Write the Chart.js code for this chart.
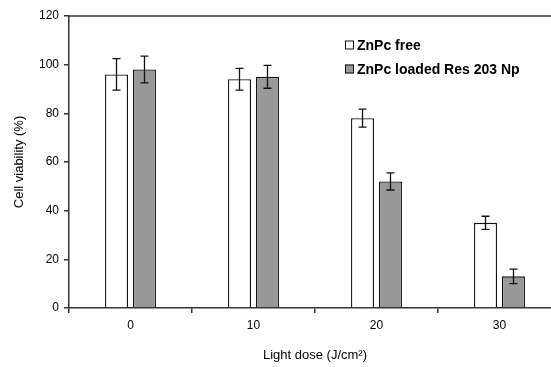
<html>
<head>
    <meta http-equiv="Content-Type" content="text/html; charset=utf-8"/>
    <title></title>
    <script src="https://cdn.jsdelivr.net/npm/chart.js@4/dist/chart.umd.min.js"></script>
    <style>
        body { margin: 0; overflow: hidden; background: #fff; }
        .chart { width: 570px; height: 367px; }
    </style>
</head>
<body>
<div class="chart">
    <canvas id="bars" width="570" height="367"></canvas>
</div>
<script>
    var doses = ["0", "10", "20", "30"];
    var freeValues = [96, 94, 78, 35];
    var freeErrors = [6.5, 4.5, 3.7, 2.7];
    var loadedValues = [98, 95, 52, 13];
    var loadedErrors = [5.5, 4.7, 3.5, 3];
    var yTicks = [0, 20, 40, 60, 80, 100, 120];

    var family = "'Liberation Sans', Arial, sans-serif";
    var tickFont = {family: family, size: 12};
    var titleFont = {family: family, size: 13};

    var errorBars = {
        id: 'errorBars',
        afterDatasetsDraw: function (chart) {
            var ctx = chart.ctx;
            var y = chart.scales.y;
            ctx.save();
            ctx.strokeStyle = '#111';
            ctx.lineWidth = 1.3;
            chart.data.datasets.forEach(function (ds, i) {
                var meta = chart.getDatasetMeta(i);
                meta.data.forEach(function (bar, j) {
                    var top = y.getPixelForValue(ds.data[j] + ds.errors[j]);
                    var bot = y.getPixelForValue(ds.data[j] - ds.errors[j]);
                    ctx.beginPath();
                    ctx.moveTo(bar.x, top); ctx.lineTo(bar.x, bot);
                    ctx.moveTo(bar.x - 4, top); ctx.lineTo(bar.x + 4, top);
                    ctx.moveTo(bar.x - 4, bot); ctx.lineTo(bar.x + 4, bot);
                    ctx.stroke();
                });
            });
            // top frame line
            var a = chart.chartArea;
            ctx.strokeStyle = '#333';
            ctx.lineWidth = 1.5;
            ctx.beginPath();
            ctx.moveTo(a.left, a.top); ctx.lineTo(a.right, a.top);
            ctx.stroke();
            ctx.restore();
        }
    };

    var boxLegend = {
        id: 'boxLegend',
        afterDraw: function (chart) {
            var ctx = chart.ctx;
            ctx.save();
            ctx.font = 'bold 14px ' + family;
            ctx.textBaseline = 'middle';
            chart.data.datasets.forEach(function (ds, i) {
                var cy = 45 + i * 24;
                ctx.fillStyle = ds.backgroundColor;
                ctx.fillRect(345, cy - 4.5, 9, 9);
                ctx.strokeStyle = '#111';
                ctx.lineWidth = 1;
                ctx.strokeRect(345.5, cy - 4, 8, 8);
                ctx.fillStyle = '#000';
                ctx.fillText(ds.label, 357, cy + 1);
            });
            ctx.restore();
        }
    };

    var ctx = document.getElementById('bars').getContext('2d');
    var chart = new Chart(ctx, {
        type: 'bar',
        data: {
            labels: doses,
            datasets: [
                {
                    label: 'ZnPc free',
                    data: freeValues,
                    errors: freeErrors,
                    backgroundColor: '#ffffff',
                    borderColor: '#111',
                    borderWidth: 1.3,
                    categoryPercentage: 0.455,
                    barPercentage: 0.82
                },
                {
                    label: 'ZnPc loaded Res 203 Np',
                    data: loadedValues,
                    errors: loadedErrors,
                    backgroundColor: '#989898',
                    borderColor: '#111',
                    borderWidth: 1.3,
                    categoryPercentage: 0.455,
                    barPercentage: 0.82
                }
            ]
        },
        options: {
            responsive: false,
            animation: false,
            layout: {padding: {top: 16, right: 9, left: 0, bottom: 0}},
            plugins: {legend: {display: false}, tooltip: {enabled: false}},
            scales: {
                x: {
                    grid: {drawOnChartArea: false, tickLength: 5, color: '#333', lineWidth: 1.5, offset: true},
                    border: {color: '#333', width: 1.5},
                    ticks: {color: '#000', font: tickFont, padding: 5},
                    title: {display: true, text: 'Light dose (J/cm²)', color: '#000', font: titleFont, padding: {top: 12}},
                    afterFit: function (s) { s.height = 59; }
                },
                y: {
                    min: 0,
                    max: 120,
                    afterBuildTicks: function (s) { s.ticks = yTicks.map(function (v) { return {value: v}; }); },
                    grid: {drawOnChartArea: false, tickLength: 5, color: '#333', lineWidth: 1.5},
                    border: {color: '#333', width: 1.5},
                    ticks: {color: '#000', font: tickFont, padding: 5},
                    title: {display: true, text: 'Cell viability (%)', color: '#000', font: titleFont, padding: {top: 12, bottom: 0}},
                    afterFit: function (s) { s.width = 69; }
                }
            }
        },
        plugins: [errorBars, boxLegend]
    });
</script>
</body>
</html>
